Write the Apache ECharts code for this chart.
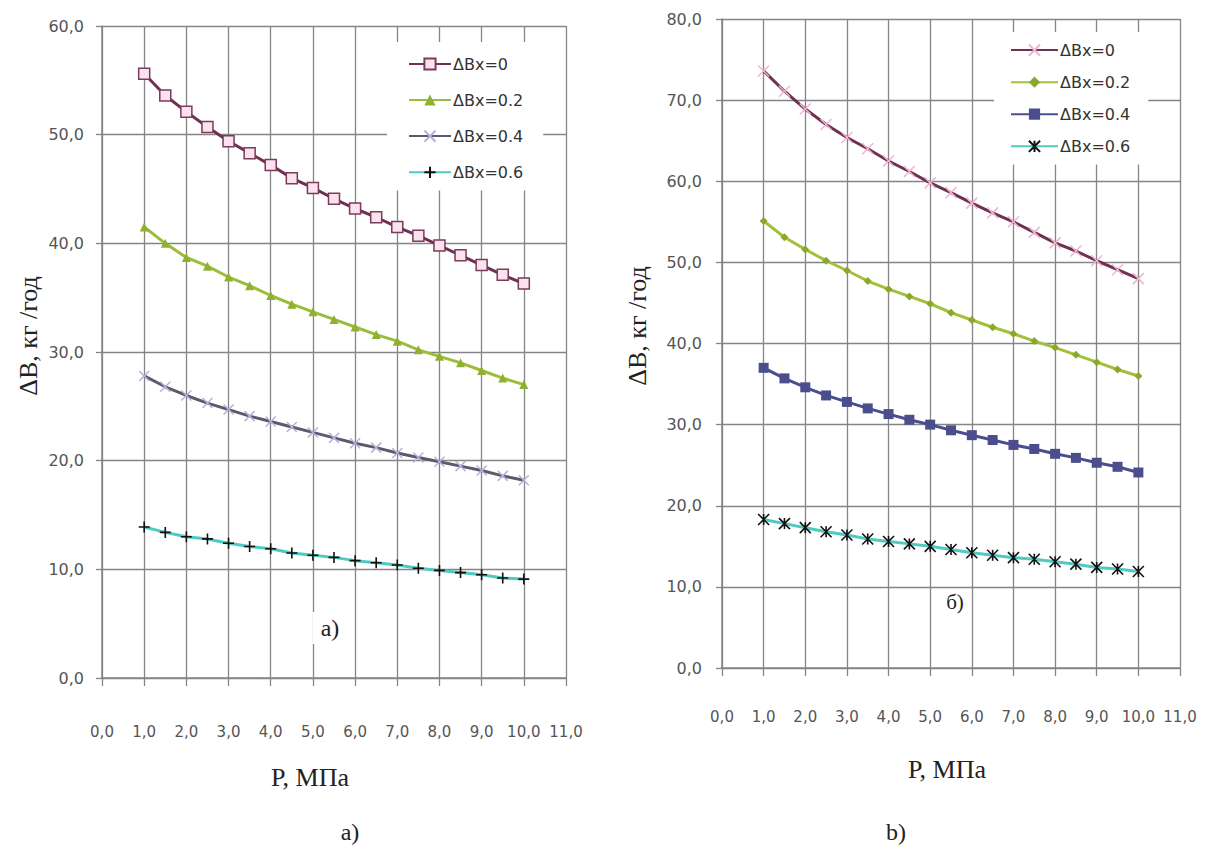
<!DOCTYPE html>
<html>
<head>
<meta charset="utf-8">
<script src="https://cdn.jsdelivr.net/npm/echarts@6/dist/echarts.min.js"></script>
<style>
  html, body { margin: 0; padding: 0; background: #fff; }
  #wrap { position: relative; width: 1211px; height: 852px; }
  #chartA { position: absolute; left: 0; top: 0; width: 600px; height: 852px; }
  #chartB { position: absolute; left: 600px; top: 0; width: 611px; height: 852px; }
</style>
</head>
<body>
<div id="wrap"><div id="chartA"></div><div id="chartB"></div></div>
<script>
// ---- data ----
const pressure = [1.0, 1.5, 2.0, 2.5, 3.0, 3.5, 4.0, 4.5, 5.0, 5.5, 6.0, 6.5, 7.0, 7.5, 8.0, 8.5, 9.0, 9.5, 10.0];
const seriesNames = ['ΔBx=0', 'ΔBx=0.2', 'ΔBx=0.4', 'ΔBx=0.6'];
const xTickLabels = ['0,0','1,0','2,0','3,0','4,0','5,0','6,0','7,0','8,0','9,0','10,0','11,0'];
const yTickLabelsA = ['0,0','10,0','20,0','30,0','40,0','50,0','60,0'];
const yTickLabelsB = ['0,0','10,0','20,0','30,0','40,0','50,0','60,0','70,0','80,0'];

// chart a)
const a0 = [55.6, 53.6, 52.1, 50.7, 49.4, 48.3, 47.2, 46.0, 45.1, 44.1, 43.2, 42.4, 41.5, 40.7, 39.8, 38.9, 38.0, 37.1, 36.3];
const a2 = [41.5, 40.0, 38.7, 37.9, 36.9, 36.1, 35.2, 34.4, 33.7, 33.0, 32.3, 31.6, 31.0, 30.2, 29.6, 29.0, 28.3, 27.6, 27.0];
const a4 = [27.8, 26.8, 26.0, 25.3, 24.7, 24.1, 23.6, 23.1, 22.6, 22.1, 21.6, 21.2, 20.7, 20.3, 19.9, 19.5, 19.1, 18.6, 18.2];
const a6 = [13.9, 13.4, 13.0, 12.8, 12.4, 12.1, 11.9, 11.5, 11.3, 11.1, 10.8, 10.6, 10.4, 10.1, 9.9, 9.7, 9.5, 9.2, 9.1];

// chart b)
const b0 = [73.6, 71.1, 68.9, 67.0, 65.4, 64.0, 62.5, 61.2, 59.8, 58.6, 57.3, 56.1, 55.0, 53.7, 52.4, 51.4, 50.2, 49.1, 48.0];
const b2 = [55.1, 53.1, 51.6, 50.2, 49.0, 47.7, 46.7, 45.8, 44.9, 43.8, 42.9, 42.0, 41.2, 40.3, 39.5, 38.6, 37.7, 36.8, 36.0];
const b4 = [37.0, 35.7, 34.6, 33.6, 32.8, 32.0, 31.3, 30.6, 30.0, 29.3, 28.7, 28.1, 27.5, 27.0, 26.4, 25.9, 25.3, 24.8, 24.1];
const b6 = [18.3, 17.8, 17.3, 16.8, 16.4, 15.9, 15.6, 15.3, 15.0, 14.6, 14.2, 13.9, 13.6, 13.4, 13.1, 12.8, 12.4, 12.2, 11.9];

const yTitle = 'ΔB, кг /год';
const xTitle = 'P, МПа';

// ---- styling helpers ----
const GRID = '#858585';
const LABEL = '#555555';
const SYM_X = 'path://M0,0L10,10M10,0L0,10';
const SYM_PLUS = 'path://M5,0L5,10M0,5L10,5';
const SYM_STAR = 'path://M0,0L10,10M10,0L0,10M5,0L5,10';

function pairs(vals) { return pressure.map((p, i) => [p, vals[i]]); }

function xAxisCfg(margin) {
  return {
    type: 'value', min: 0, max: 11, interval: 1,
    axisLine: { show: true, lineStyle: { color: GRID, width: 1.5 } },
    axisTick: { show: true, length: 8, lineStyle: { color: GRID, width: 1.3 } },
    splitLine: { show: true, lineStyle: { color: GRID, width: 1.3 } },
    axisLabel: {
      margin: margin, fontFamily: 'DejaVu Sans', fontSize: 15, color: LABEL,
      formatter: v => xTickLabels[Math.round(v)]
    }
  };
}
function yAxisCfg(max, labels, margin) {
  return {
    type: 'value', min: 0, max: max, interval: 10,
    axisLine: { show: true, lineStyle: { color: GRID, width: 1.5 } },
    axisTick: { show: true, length: 6, lineStyle: { color: GRID, width: 1.3 } },
    splitLine: { show: true, lineStyle: { color: GRID, width: 1.3 } },
    axisLabel: {
      margin: margin, fontFamily: 'DejaVu Sans', fontSize: 16, color: LABEL,
      formatter: v => labels[Math.round(v / 10)]
    }
  };
}
function lineSeries(name, vals, color, width, symbol, size, itemStyle) {
  return {
    type: 'line', name: name, data: pairs(vals),
    symbol: symbol, symbolSize: size, showSymbol: true,
    lineStyle: { color: color, width: width },
    itemStyle: itemStyle,
    emphasis: { disabled: true },
    z: 3
  };
}
function legendCfg(left, top, w, gap, pad) {
  return {
    left: left, top: top, orient: 'vertical',
    itemWidth: w, itemHeight: 14, itemGap: gap,
    padding: pad, backgroundColor: '#ffffff',
    textStyle: { fontFamily: 'DejaVu Sans', fontSize: 16, color: '#333333', padding: [0, 0, 0, -3] },
    data: seriesNames
  };
}
function textEl(text, x, y, font, rot, extra) {
  return {
    type: 'text', x: x, y: y, rotation: rot || 0, z: 100,
    style: Object.assign({ text: text, font: font, fill: '#222222', textAlign: 'center', textVerticalAlign: 'middle' }, extra || {})
  };
}

// ---- chart a) ----
const chartA = echarts.init(document.getElementById('chartA'), null, { renderer: 'svg' });
chartA.setOption({
  animation: false,
  backgroundColor: '#ffffff',
  grid: { left: 102, top: 26, width: 464, height: 652, containLabel: false },
  xAxis: xAxisCfg(46),
  yAxis: yAxisCfg(60, yTickLabelsA, 18),
  legend: legendCfg(387, 42, 42, 20, [14, 20, 10, 21]),
  series: [
    lineSeries(seriesNames[0], a0, '#6e3152', 3, 'rect', 11, { color: '#fbe2ee', borderColor: '#7a3b5c', borderWidth: 1.5 }),
    lineSeries(seriesNames[1], a2, '#9cbc3a', 3, 'triangle', 9, { color: '#8fb030' }),
    lineSeries(seriesNames[2], a4, '#5d5a6b', 3, SYM_X, 10, { color: 'none', borderColor: '#b8b0d8', borderWidth: 1.5 }),
    lineSeries(seriesNames[3], a6, '#4fcac2', 3, SYM_PLUS, 11, { color: 'none', borderColor: '#111111', borderWidth: 1.6 })
  ],
  graphic: [
    textEl(yTitle, 28, 336, '26px "Liberation Serif"', Math.PI / 2),
    textEl(xTitle, 310, 777, '26px "Liberation Serif"'),
    textEl('a)', 350, 832, '24px "Liberation Serif"'),
    textEl('a)', 333, 628, '24px "Liberation Serif"', 0, { backgroundColor: '#ffffff', padding: [4, 14, 4, 8] })
  ]
});

// ---- chart b) ----
const chartB = echarts.init(document.getElementById('chartB'), null, { renderer: 'svg' });
chartB.setOption({
  animation: false,
  backgroundColor: '#ffffff',
  grid: { left: 122, top: 19, width: 458, height: 649, containLabel: false },
  xAxis: xAxisCfg(41),
  yAxis: yAxisCfg(80, yTickLabelsB, 20),
  legend: legendCfg(394, 32, 47, 16, [10, 18, 10, 16]),
  series: [
    lineSeries(seriesNames[0], b0, '#6e3152', 3, SYM_X, 11, { color: 'none', borderColor: '#f0b4d2', borderWidth: 1.5 }),
    lineSeries(seriesNames[1], b2, '#a3c03a', 3, 'diamond', 8, { color: '#8aa82a' }),
    lineSeries(seriesNames[2], b4, '#4b4e8c', 3, 'rect', 10, { color: '#4b4e8c' }),
    lineSeries(seriesNames[3], b6, '#4fcac2', 3, SYM_STAR, 11, { color: 'none', borderColor: '#111111', borderWidth: 1.6 })
  ],
  graphic: [
    textEl(yTitle, 37, 326, '26px "Liberation Serif"', Math.PI / 2),
    textEl(xTitle, 347, 769, '26px "Liberation Serif"'),
    textEl('b)', 296, 832, '24px "Liberation Serif"'),
    textEl('б)', 355, 602, '21px "Liberation Serif"', 0, { backgroundColor: '#ffffff', padding: [2, 4] })
  ]
});
</script>
</body>
</html>
